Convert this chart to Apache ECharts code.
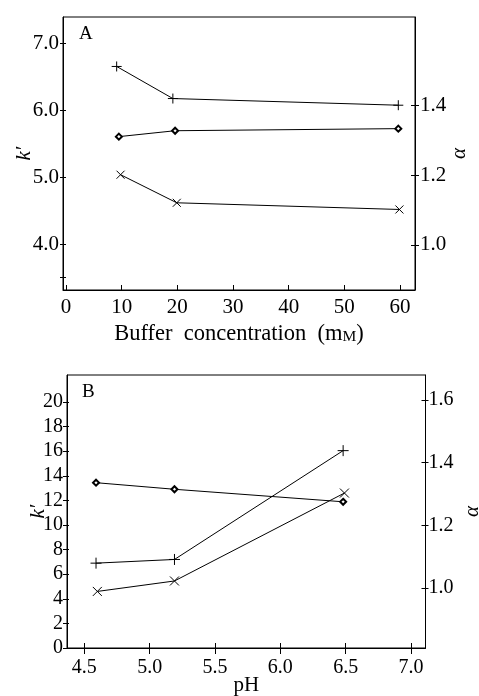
<!DOCTYPE html>
<html>
<head>
<meta charset="utf-8">
<script src="https://cdn.jsdelivr.net/npm/echarts@6/dist/echarts.min.js"></script>
<style>
  html, body { margin: 0; padding: 0; background: #fff; }
  #chart { width: 479px; height: 696px; }
</style>
</head>
<body>
<div id="chart"></div>
<script>
// panel A: buffer concentration (mM)
var concPlus = [9.1, 19.2, 59.7];
var kPlusA = [6.66, 6.18, 6.08];
var concCross = [9.8, 19.9, 59.9];
var kCrossA = [5.04, 4.62, 4.52];
var concDiamond = [9.5, 19.6, 59.7];
var alphaA = [1.311, 1.328, 1.334];

// panel B: pH
var phPlus = [4.59, 5.19, 6.48];
var kPlusB = [6.9, 7.2, 16.05];
var phCross = [4.6, 5.19, 6.49];
var kCrossB = [4.6, 5.45, 12.6];
var phDiamond = [4.59, 5.19, 6.48];
var alphaB = [1.336, 1.315, 1.275];

// tick values
var concTicks = [0, 10, 20, 30, 40, 50, 60];
var kTicksA = [4, 5, 6, 7];
var kMinorA = [3.5, 4, 5, 6, 7];
var alphaTicksA = [1.0, 1.2, 1.4];
var phTicks = [4.5, 5.0, 5.5, 6.0, 6.5, 7.0];
var kTicksB = [0, 2, 4, 6, 8, 10, 12, 14, 16, 18, 20];
var alphaTicksB = [1.0, 1.2, 1.4, 1.6];

var SERIF = '"Liberation Serif", "DejaVu Serif", serif';
var INK = '#000';
var PLUS = 'path://M5,0L5,10M0,5L10,5';
var CROSS = 'path://M0,0L10,10M10,0L0,10';

function pairs(xs, ys) {
    return xs.map(function (x, i) { return [x, ys[i]]; });
}
function fixed1(v) { return v.toFixed(1); }

// one value axis; dup axes only add the ticks on the other side of the line
function axis(o) {
    return {
        type: 'value',
        gridIndex: o.grid,
        position: o.position,
        offset: 0,
        min: o.min,
        max: o.max,
        name: o.name || '',
        nameLocation: 'middle',
        nameGap: o.nameGap || 0,
        nameRotate: o.nameRotate,
        nameMoveOverlap: false,
        nameTextStyle: o.nameTextStyle,
        axisLine: { show: !o.dup, onZero: false, lineStyle: { color: INK, width: 1 } },
        axisTick: {
            show: true, inside: !!o.inside, length: o.tickLen || 4,
            customValues: o.ticks, lineStyle: { color: INK, width: 1 }
        },
        axisLabel: {
            show: !o.dup, customValues: o.labels, formatter: o.formatter,
            color: INK, fontFamily: SERIF, fontSize: o.fontSize || 21, margin: o.margin || 5
        },
        splitLine: { show: false }
    };
}

function line(name, xi, yi, data, symbol, size) {
    return {
        name: name,
        type: 'line',
        xAxisIndex: xi,
        yAxisIndex: yi,
        data: data,
        symbol: symbol,
        symbolSize: size,
        showAllSymbol: true,
        lineStyle: { color: INK, width: 1 },
        itemStyle: { color: INK, borderColor: INK, borderWidth: symbol === 'emptyDiamond' ? 0.8 : 1 },
        animation: false
    };
}

var chart = echarts.init(document.getElementById('chart'));

var italicName = { fontFamily: SERIF, fontSize: 21, fontStyle: 'italic', color: INK };

var option = {
    backgroundColor: '#fff',
    animation: false,
    grid: [
        { left: 63, top: 17, width: 352, height: 273, show: true, borderColor: INK, borderWidth: 1, outerBoundsMode: 'none', containLabel: false },
        { left: 67, top: 375, width: 358.5, height: 273, show: true, borderColor: INK, borderWidth: 1, outerBoundsMode: 'none', containLabel: false }
    ],
    graphic: [
        { type: 'text', left: 79, top: 25, style: { text: 'A', font: '19px ' + SERIF, fill: INK } },
        { type: 'text', left: 82, top: 383, style: { text: 'B', font: '19px ' + SERIF, fill: INK } }
    ],
    xAxis: [
        axis({
            grid: 0, position: 'bottom', min: -0.54, max: 62.7, inside: true, tickLen: 5,
            ticks: concTicks, labels: concTicks, margin: 7,
            name: '{t|Buffer  concentration  (m}{s|M}{t|)}', nameGap: 33,
            nameTextStyle: {
                rich: {
                    t: { fontFamily: SERIF, fontSize: 22.5, color: INK, verticalAlign: 'bottom' },
                    s: { fontFamily: SERIF, fontSize: 15.5, color: INK, verticalAlign: 'bottom', padding: [0, 0, 1, 0] }
                }
            }
        }),
        axis({
            grid: 1, position: 'bottom', min: 4.368, max: 7.11, tickLen: 6,
            ticks: phTicks, labels: phTicks, formatter: fixed1, fontSize: 20, margin: 10,
            name: 'pH', nameGap: 27,
            nameTextStyle: { fontFamily: SERIF, fontSize: 21, color: INK }
        }),
        axis({ grid: 1, position: 'bottom', min: 4.368, max: 7.11, dup: true, inside: true, tickLen: 5, ticks: phTicks })
    ],
    yAxis: [
        axis({
            grid: 0, position: 'left', min: 3.315, max: 7.4, tickLen: 3,
            ticks: kMinorA, labels: kTicksA, formatter: fixed1, margin: 4,
            name: 'k′', nameGap: 28, nameRotate: 90, nameTextStyle: italicName
        }),
        axis({
            grid: 0, position: 'right', min: 0.870, max: 1.655, tickLen: 4,
            ticks: alphaTicksA, labels: alphaTicksA, formatter: fixed1, margin: 5,
            name: 'α', nameGap: 34, nameRotate: 90, nameTextStyle: italicName
        }),
        axis({ grid: 0, position: 'left', min: 3.315, max: 7.4, dup: true, inside: true, tickLen: 3, ticks: kMinorA }),
        axis({ grid: 0, position: 'right', min: 0.870, max: 1.655, dup: true, inside: true, tickLen: 4, ticks: alphaTicksA }),
        axis({
            grid: 1, position: 'left', min: 0, max: 22.2, tickLen: 4,
            ticks: kTicksB, labels: kTicksB, fontSize: 20, margin: 4,
            name: 'k′', nameGap: 18, nameRotate: 90, nameTextStyle: italicName
        }),
        axis({
            grid: 1, position: 'right', min: 0.808, max: 1.68, tickLen: 3,
            ticks: alphaTicksB, labels: alphaTicksB, formatter: fixed1, fontSize: 20, margin: 3,
            name: 'α', nameGap: 36, nameRotate: 90, nameTextStyle: italicName
        }),
        axis({ grid: 1, position: 'left', min: 0, max: 22.2, dup: true, inside: true, tickLen: 2, ticks: kTicksB }),
        axis({ grid: 1, position: 'right', min: 0.808, max: 1.68, dup: true, inside: true, tickLen: 4, ticks: alphaTicksB })
    ],
    series: [
        line('k2 A', 0, 0, pairs(concPlus, kPlusA), PLUS, 10),
        line('k1 A', 0, 0, pairs(concCross, kCrossA), CROSS, 8),
        line('alpha A', 0, 1, pairs(concDiamond, alphaA), 'emptyDiamond', 6),
        line('k2 B', 1, 4, pairs(phPlus, kPlusB), PLUS, 11),
        line('k1 B', 1, 4, pairs(phCross, kCrossB), CROSS, 9),
        line('alpha B', 1, 5, pairs(phDiamond, alphaB), 'emptyDiamond', 6)
    ]
};

chart.setOption(option);
</script>
</body>
</html>
